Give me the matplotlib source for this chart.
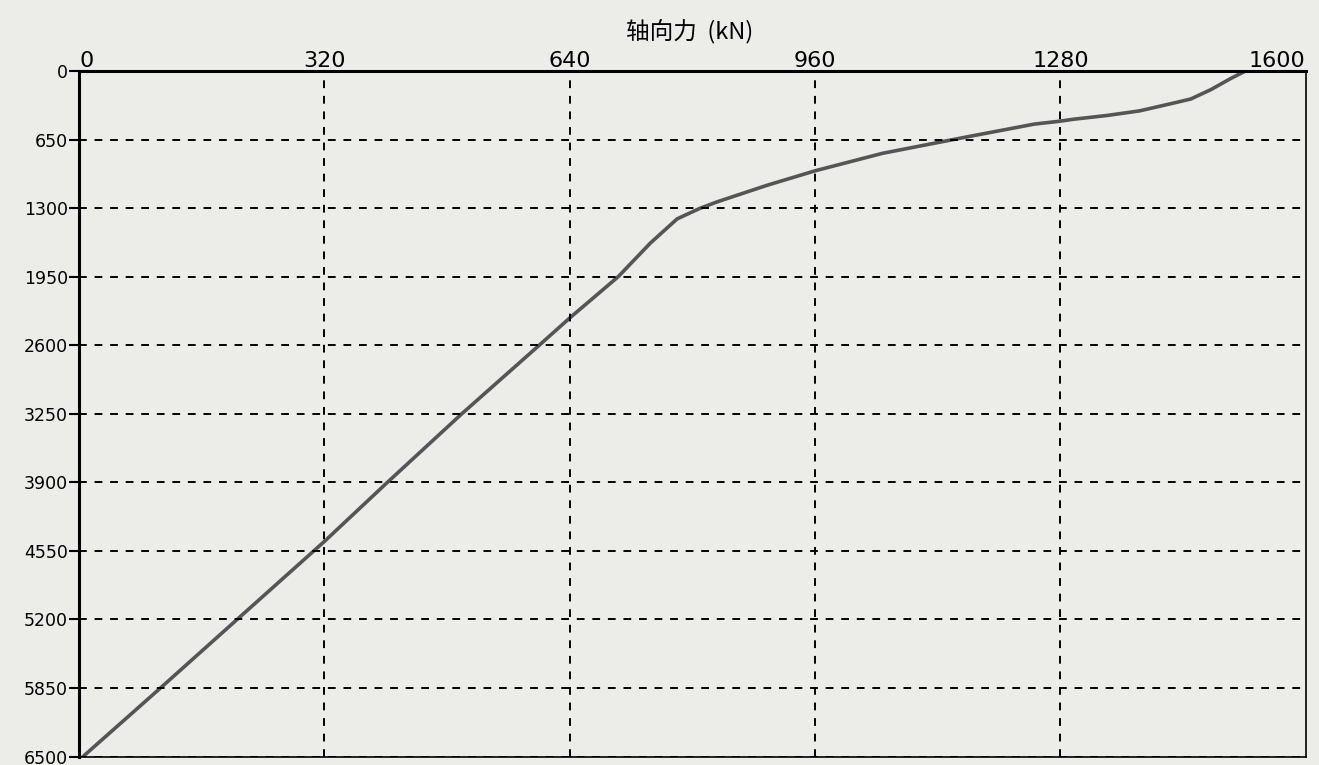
import matplotlib.pyplot as plt
import numpy as np

plt.rcParams['font.family'] = ['Noto Sans CJK SC', 'DejaVu Sans']

# depth (m) vs axial force (kN)
depth = [0, 70, 176, 264, 307, 377, 421, 456, 474, 502, 622, 779, 945,
         1083, 1240, 1300, 1401, 1631, 1950, 2340, 2600, 3250, 3900, 4459,
         5200, 5850, 6500]
force = [1521, 1502, 1476, 1450, 1425, 1383, 1340, 1297, 1280, 1246, 1159,
         1048, 960, 897, 832, 810, 780, 745, 703, 640, 600, 499, 402, 320,
         206, 106, 5]

x_ticks = [0, 320, 640, 960, 1280, 1600]
y_ticks = [0, 650, 1300, 1950, 2600, 3250, 3900, 4550, 5200, 5850, 6500]

bg = "#ecece9"
fig = plt.figure(figsize=(13.19, 7.65), dpi=100, facecolor=bg)
ax = fig.add_axes([0.060, 0.011, 0.930, 0.896], facecolor=bg)

ax.plot(force, depth, color="#555555", lw=2.6, solid_joinstyle="round")

ax.set_xlim(0, 1600)
ax.set_ylim(6500, 0)

ax.xaxis.tick_top()
ax.set_xticks(x_ticks)
ax.set_yticks(y_ticks)
xlabels = ax.set_xticklabels([str(v) for v in x_ticks], fontsize=16,
                             family="DejaVu Sans")
xlabels[0].set_ha("left")
xlabels[-1].set_ha("right")
ax.set_yticklabels([str(v) for v in y_ticks], fontsize=12.5,
                   family="DejaVu Sans")
ax.tick_params(axis="x", length=0, pad=0)
ax.tick_params(axis="y", length=7, width=1.5, pad=1, direction="out")

for v in x_ticks[1:-1]:
    ax.axvline(v, color="black", lw=1.4, ls=(0, (4, 4)))
for v in y_ticks[1:]:
    ax.axhline(v, color="black", lw=1.4, ls=(0, (4, 4)))

ax.spines["top"].set_linewidth(2.2)
ax.spines["left"].set_linewidth(2.2)
ax.spines["bottom"].set_linewidth(1.2)
ax.spines["right"].set_linewidth(1.2)

fig.text(0.523, 0.958, "轴向力  (kN)", ha="center", va="center", fontsize=17)

plt.savefig("out.png", dpi=100, facecolor=bg)
